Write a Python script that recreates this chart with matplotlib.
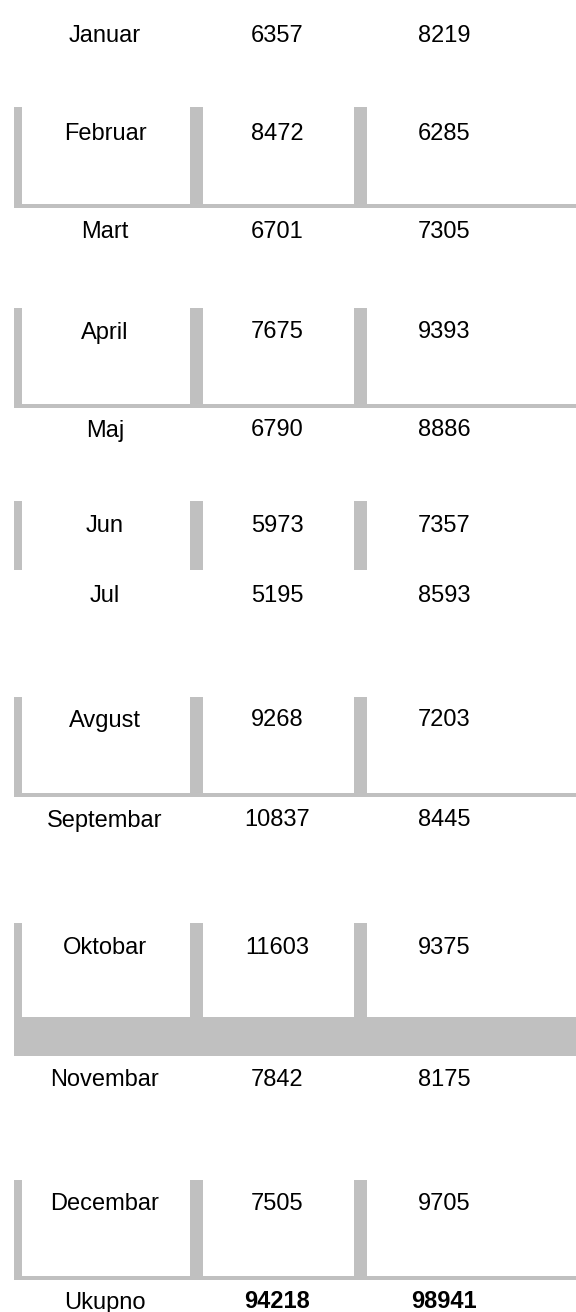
import matplotlib
matplotlib.use('Agg')
import matplotlib.pyplot as plt
from matplotlib.patches import Rectangle

plt.rcParams['font.family'] = ['Liberation Sans', 'DejaVu Sans']

months = ['Januar', 'Februar', 'Mart', 'April', 'Maj', 'Jun', 'Jul',
          'Avgust', 'Septembar', 'Oktobar', 'Novembar', 'Decembar']
values_a = [6357, 8472, 6701, 7675, 6790, 5973, 5195, 9268, 10837, 11603, 7842, 7505]
values_b = [8219, 6285, 7305, 9393, 8886, 7357, 8593, 7203, 8445, 9375, 8175, 9705]
total_label = 'Ukupno'

# layout (pixels): text centre of each row, boxed rows get grey borders
row_y = [33, 131, 230, 330, 428, 523, 593, 718, 818, 945, 1077, 1202, 1300]
box_top = {1: 107, 3: 308, 5: 501, 7: 697, 9: 923, 11: 1180}
box_bottom = {1: 204, 3: 404, 5: 570, 7: 793, 9: 1017, 11: 1276}
line_h = {1: 4, 3: 3.5, 5: 0, 7: 3.5, 9: 39, 11: 4}
col_x = [105, 277, 444]
bars = [(13.5, 8), (190, 13), (354, 13)]
grey = '#c0c0c0'

fig = plt.figure(figsize=(5.76, 13.12), dpi=100)
ax = fig.add_axes([0, 0, 1, 1])
ax.set_xlim(0, 576)
ax.set_ylim(1312, 0)
ax.axis('off')

for i, r in box_top.items():
    b = box_bottom[i]
    for x0, w in bars:
        ax.add_patch(Rectangle((x0, r), w, b - r, color=grey, lw=0))
    if line_h[i]:
        ax.add_patch(Rectangle((13.5, b), 576 - 13.5, line_h[i], color=grey, lw=0))

fs = 17
off = 8.5  # baseline below centre


def cell(x, y, s, **kw):
    ax.text(x, y + off, s, ha='center', va='baseline', fontsize=fs, **kw)


for i, m in enumerate(months):
    y = row_y[i]
    cell(col_x[0], y, m)
    cell(col_x[1], y, str(values_a[i]))
    cell(col_x[2], y, str(values_b[i]))

y = row_y[-1]
cell(col_x[0], y, total_label)
cell(col_x[1], y, str(sum(values_a)), fontweight='bold')
cell(col_x[2], y, str(sum(values_b)), fontweight='bold')

fig.savefig('out.png', dpi=100)
